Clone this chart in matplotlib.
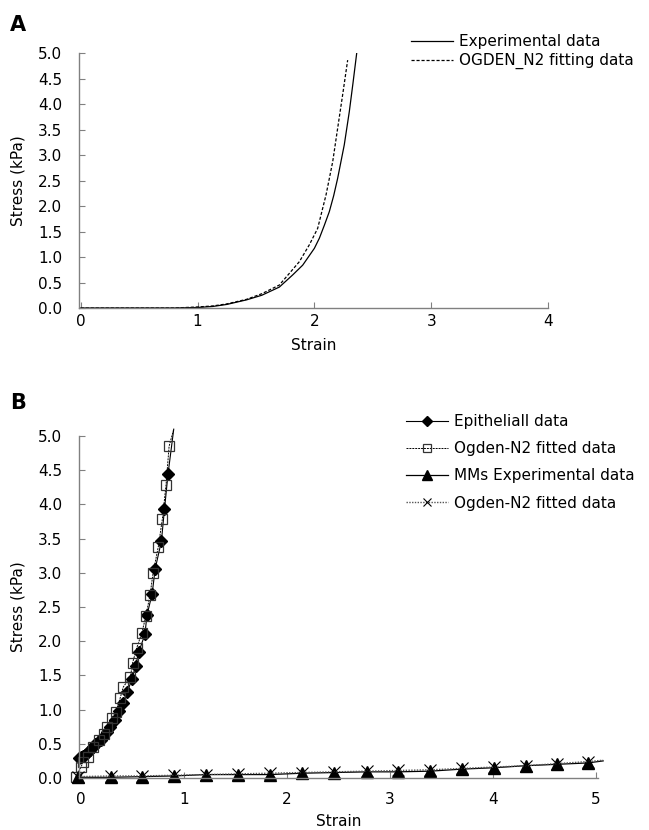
import matplotlib
matplotlib.use("Agg")
import matplotlib.pyplot as plt

plt.rcParams['font.family'] = ['DejaVu Sans']

# ---------------- Panel A data ----------------
exp_x = [0.0, 0.4, 0.8, 1.0, 1.13, 1.25, 1.42, 1.55, 1.70, 1.815, 1.90, 2.00, 2.043, 2.085,
         2.128, 2.165, 2.199, 2.256, 2.299, 2.33, 2.362]
exp_y = [0.0, 0.0, 0.0, 0.01, 0.03, 0.07, 0.16, 0.25, 0.41, 0.65, 0.84, 1.17, 1.37, 1.62,
         1.89, 2.20, 2.54, 3.20, 3.85, 4.40, 4.99]
fit_x = [0.0, 0.4, 0.8, 1.0, 1.13, 1.25, 1.42, 1.55, 1.70, 1.786, 1.872, 1.957, 2.028, 2.10,
         2.157, 2.199, 2.242, 2.285]
fit_y = [0.0, 0.0, 0.0, 0.02, 0.04, 0.08, 0.17, 0.28, 0.45, 0.68, 0.91, 1.24, 1.56, 2.22,
         2.87, 3.52, 4.18, 4.86]

# ---------------- Panel B data ----------------
epi_x = [-0.02, 0.0, 0.02, 0.04, 0.07, 0.09, 0.12, 0.14, 0.165, 0.19, 0.21, 0.25, 0.28, 0.33, 0.37,
         0.41, 0.45, 0.495, 0.53, 0.56, 0.62, 0.64, 0.69, 0.72, 0.78, 0.81, 0.845, 0.90]
epi_y = [0.29, 0.30, 0.32, 0.34, 0.38, 0.41, 0.45, 0.49, 0.53, 0.56, 0.60, 0.67, 0.75, 0.85, 0.98,
         1.10, 1.26, 1.45, 1.64, 1.84, 2.10, 2.38, 2.69, 3.06, 3.46, 3.93, 4.45, 5.10]
ogd1_x = [-0.05, 0.0, 0.02, 0.07, 0.12, 0.17, 0.22, 0.25, 0.30, 0.34, 0.38, 0.41, 0.48, 0.50,
          0.54, 0.59, 0.63, 0.67, 0.70, 0.75, 0.79, 0.825, 0.855, 0.90]
ogd1_y = [0.02, 0.16, 0.24, 0.31, 0.46, 0.55, 0.65, 0.75, 0.88, 0.97, 1.17, 1.33, 1.48, 1.68,
          1.90, 2.12, 2.37, 2.68, 3.00, 3.38, 3.79, 4.28, 4.85, 5.10]
mm_x = [-0.03, 0.29, 0.59, 0.90, 1.21, 1.52, 1.83, 2.15, 2.46, 2.78, 3.08, 3.39, 3.70, 4.01, 4.32, 4.62, 4.92, 5.07]
mm_y = [0.01, 0.01, 0.02, 0.03, 0.05, 0.05, 0.05, 0.07, 0.08, 0.09, 0.09, 0.10, 0.13, 0.15, 0.18, 0.20, 0.22, 0.25]
ogd2_x = [-0.03, 0.29, 0.59, 0.90, 1.21, 1.52, 1.83, 2.15, 2.46, 2.78, 3.08, 3.39, 3.70, 4.01, 4.32, 4.62, 4.92, 5.07]
ogd2_y = [0.02, 0.03, 0.03, 0.04, 0.05, 0.06, 0.07, 0.08, 0.09, 0.10, 0.11, 0.12, 0.14, 0.16, 0.18, 0.21, 0.24, 0.26]

y_ticks = [0.0, 0.5, 1.0, 1.5, 2.0, 2.5, 3.0, 3.5, 4.0, 4.5, 5.0]
y_ticklabels = ["0.0", "0.5", "1.0", "1.5", "2.0", "2.5", "3.0", "3.5", "4.0", "4.5", "5.0"]
xA_ticks = [0, 1, 2, 3, 4]
xB_ticks = [0, 1, 2, 3, 4, 5]

W, H = 649, 830
fig = plt.figure(figsize=(W / 100, H / 100), dpi=100)
FS = 11

def px_axes(l, r, t, b):
    return fig.add_axes([l / W, 1 - b / H, (r - l) / W, (b - t) / H])

def style(ax, xpad, xlabelpad):
    for s in ['top', 'right']:
        ax.spines[s].set_visible(False)
    for s in ['left', 'bottom']:
        ax.spines[s].set_color('#808080')
        ax.spines[s].set_linewidth(1.0)
    ax.tick_params(direction='in', length=4.5, width=0.8, color='#808080', labelsize=FS)
    ax.tick_params(axis='y', pad=12)
    ax.tick_params(axis='x', pad=xpad)
    ax.set_yticks(y_ticks)
    ax.set_yticklabels(y_ticklabels)
    ax.set_ylim(0, 5.0)
    ax.set_ylabel("Stress (kPa)", fontsize=FS, labelpad=9)
    ax.set_xlabel("Strain", fontsize=FS, labelpad=xlabelpad)

# ---------------- Panel A ----------------
axA = px_axes(79, 548, 53, 308)
axA.plot(exp_x, exp_y, color='black', lw=0.9, ls='-', label='Experimental data')
axA.plot(fit_x, fit_y, color='black', lw=0.9, ls=(0, (2.5, 1.5)), label='OGDEN_N2 fitting data')
axA.set_xlim(-0.015, 4.0)
axA.set_xticks(xA_ticks)
style(axA, 4, 7)
axA.legend(loc='upper left', bbox_to_anchor=(411 / W, 1 - 34 / H), bbox_transform=fig.transFigure,
           frameon=False, fontsize=FS, handlelength=2.75, handletextpad=0.4, borderpad=0,
           borderaxespad=0, labelspacing=0.27)
fig.text(10 / W, 1 - 25 / H, "A", fontsize=15, fontweight='bold', va='center', ha='left')

# ---------------- Panel B ----------------
axB = px_axes(79, 598, 436, 778)
n1 = len(epi_x) - 1
n2 = len(ogd1_x) - 1
n3 = len(mm_x) - 1
n4 = len(ogd2_x) - 1
axB.plot(epi_x, epi_y, color='black', lw=0.8, ls='-', marker='D', markersize=6.2,
         markerfacecolor='black', markeredgecolor='black', markevery=list(range(n1)),
         label='Epitheliall data', clip_on=False)
axB.plot(ogd1_x, ogd1_y, color='black', lw=0.7, ls=(0, (2, 1)), marker='s', markersize=7,
         markerfacecolor='none', markeredgecolor='#333333', markeredgewidth=0.9,
         markevery=list(range(n2)), label='Ogden-N2 fitted data', clip_on=False)
axB.plot(mm_x, mm_y, color='black', lw=0.9, ls='-', marker='^', markersize=8.5,
         markerfacecolor='black', markeredgecolor='black', markevery=list(range(n3)),
         label='MMs Experimental data', clip_on=False)
axB.plot(ogd2_x, ogd2_y, color='#555555', lw=1.0, ls=(0, (1, 1)), marker='x', markersize=8,
         markeredgecolor='black', markeredgewidth=0.8, markevery=list(range(n4)),
         label='Ogden-N2 fitted data', clip_on=False)
axB.set_xlim(-0.02, 5.02)
axB.set_xticks(xB_ticks)
style(axB, 10, 5)
axB.legend(loc='upper left', bbox_to_anchor=(406 / W, 1 - 414 / H), bbox_transform=fig.transFigure,
           frameon=False, fontsize=FS, handlelength=2.75, handletextpad=0.4, borderpad=0,
           borderaxespad=0, labelspacing=0.8, markerscale=0.8)
fig.text(10 / W, 1 - 403 / H, "B", fontsize=15, fontweight='bold', va='center', ha='left')

fig.savefig("out.png", dpi=100)
